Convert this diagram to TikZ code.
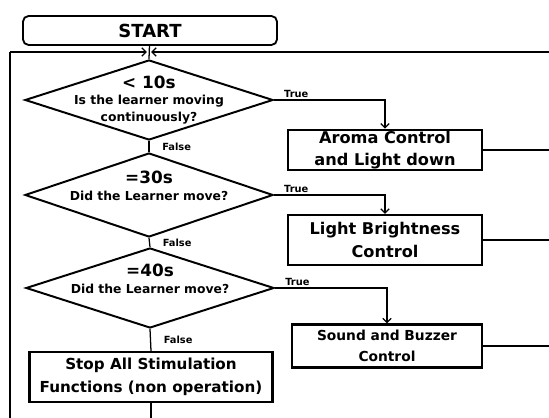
\documentclass[tikz,border=0pt]{standalone}
\usepackage{fontspec}
\setmainfont{DejaVu Sans}
\usetikzlibrary{shapes.geometric,arrows.meta,calc}
\newcommand{\qtimefont}{\fontsize{12}{13}\selectfont}

\tikzset{
  pic/.style={x=0.025cm,y=-0.025cm,font=\bfseries},
  startbox/.style={draw,line width=1.3pt,rounded corners=4pt,minimum width=6.35cm,minimum height=0.725cm,font=\bfseries\fontsize{12.8}{14}\selectfont},
  actbox/.style={draw,line width=1.6pt,minimum width=4.85cm,align=center,inner sep=1pt},
  decision/.style={draw,diamond,line width=1.4pt,minimum width=6.2cm,minimum height=2cm,inner sep=0pt},
  qtext/.style={align=center,font=\bfseries\fontsize{8.8}{12}\selectfont},
  flow/.style={line width=0.9pt},
  arr/.style={flow,-{Straight Barb[length=3pt,width=6pt]}},
  lbl/.style={font=\bfseries\fontsize{7}{8}\selectfont,inner sep=1pt}
}

\begin{document}
\begin{tikzpicture}[pic]
  \useasboundingbox (0,0) rectangle (549,418);

  % start and loop return
  \node[startbox] (start) at (150,30.5) {START};
  \coordinate (jn) at (149,52);
  \coordinate (lft) at (10,52);
  \coordinate (rgt) at (549,52);
  \coordinate (lbot) at (10,418);

  % decisions
  \node[decision] (d1) at (149,100) {};
  \node[qtext] (q1) at (d1) {{\qtimefont < 10s}\\Is the learner moving\\continuously?};
  \node[decision,minimum height=2.1cm] (d2) at (149,195) {};
  \node[qtext] (q2) at ($(d2)+(0,-9)$) {{\qtimefont =30s}\\Did the Learner move?};
  \node[decision] (d3) at (150,288) {};
  \node[qtext] (q3) at ($(d3)+(0,-9)$) {{\qtimefont =40s}\\Did the Learner move?};

  % actions
  \node[actbox,minimum height=1cm,font=\bfseries\fontsize{11.5}{15.5}\selectfont] (box1) at (385,150) {Aroma Control\\and Light down};
  \node[actbox,minimum height=1.25cm,font=\bfseries\fontsize{11.5}{16.5}\selectfont] (box2) at (385,240) {Light Brightness\\Control};
  \node[actbox,minimum width=4.75cm,minimum height=1.075cm,font=\bfseries\fontsize{9.8}{14.5}\selectfont] (box3) at (387,346) {Sound and Buzzer\\Control};
  \node[actbox,minimum width=6.075cm,minimum height=1.25cm,font=\bfseries\fontsize{10.8}{16}\selectfont] (stop) at (151,377) {Stop All Stimulation\\Functions (non operation)};
  \coordinate (sbot) at (151,418);

  % connectors
  \draw[flow] (start) -- (d1.north);
  \draw[flow] (lbot) -- (lft);
  \draw[arr,shorten >=1.5pt] (lft) -- (jn);
  \draw[arr,shorten >=1.5pt] (rgt) -- (jn);

  \draw[arr] (d1.east) -| (box1.north) node[lbl,pos=0.1,above] {True};
  \draw[arr] (d2.east) -| (box2.north) node[lbl,pos=0.1,above] {True};
  \draw[arr] (d3.east) -| (box3.north) node[lbl,pos=0.1,above] {True};

  \draw[flow] (d1.south) -- (d2.north) node[lbl,midway,right=8pt] {False};
  \draw[flow] (d2.south) -- (d3.north) node[lbl,midway,right=8pt] {False};
  \draw[flow] (d3.south) -- (stop.north) node[lbl,midway,right=8pt] {False};
  \draw[flow] (stop.south) -- (sbot);

  \draw[flow] (box1.east) -- (box1.east -| rgt);
  \draw[flow] (box2.east) -- (box2.east -| rgt);
  \draw[flow] (box3.east) -- (box3.east -| rgt);
\end{tikzpicture}
\end{document}
